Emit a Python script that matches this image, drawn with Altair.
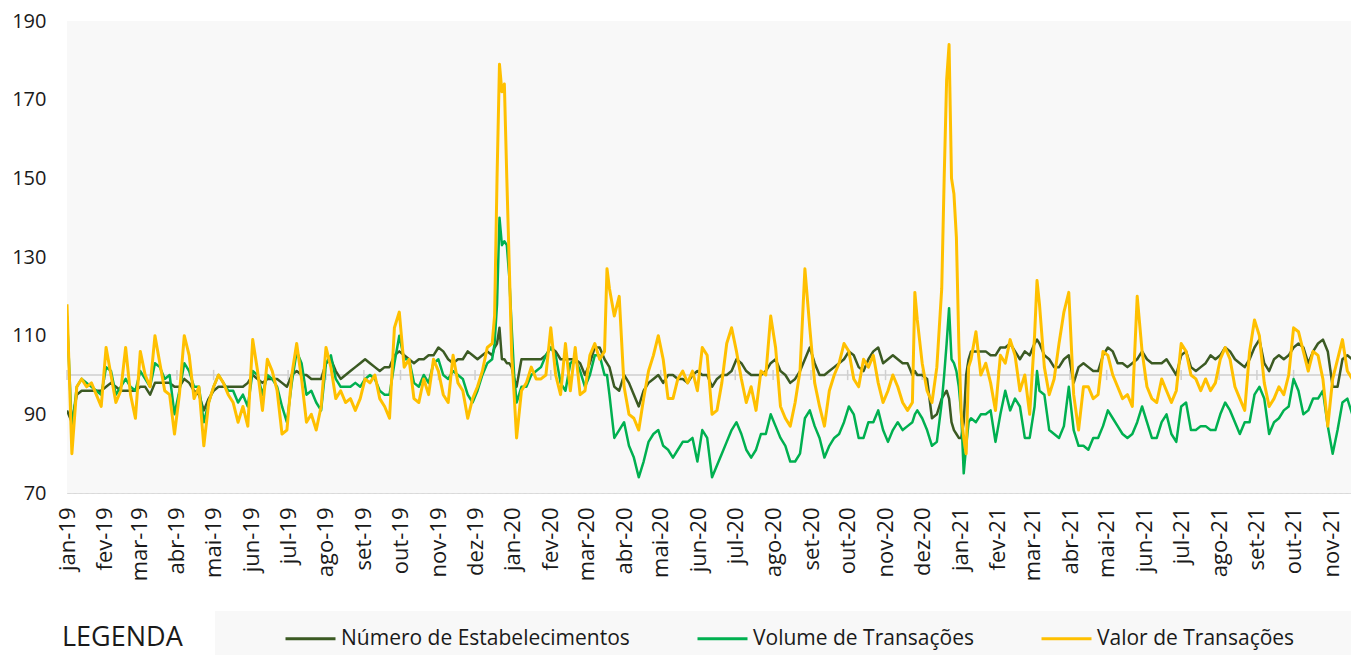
import pandas as pd
import altair as alt

START = pd.Timestamp("2019-01-01")
STEP_DAYS = 4  # sampling step of the main series (one value every 4 days from 1 Jan 2019)

# Número de Estabelecimentos
estab = (
    [91, 88, 95, 96, 96, 96, 96, 96, 97, 98, 97, 96, 96, 96, 96, 97, 97, 95, 98, 98, 98, 98,
     97, 97, 99, 98, 96, 95, 91, 94, 96, 97, 97, 97, 97, 97, 97, 98, 100, 99, 98, 99, 99, 99]
    + [98, 97, 100, 101, 100, 100, 99, 99, 99, 103, 104, 101, 99, 100, 101, 102, 103, 104, 103,
       102, 101, 102, 102, 105, 106, 105, 104, 103, 104, 104, 105, 105, 107, 106, 104, 103, 104,
       104, 106, 105, 104, 105, 106, 105, 108, 104, 103, 102, 97, 104, 104]
    + [104, 104, 104, 105, 107, 106, 104, 104, 104, 104, 103, 100, 103, 107, 107, 104, 102, 97,
       96, 100, 98, 95, 92, 96, 98, 99, 100, 98, 100, 100, 99, 99, 98, 100, 101, 100, 100, 97,
       99, 100, 100, 101, 104, 103, 101, 100, 100, 100, 101, 103, 104]
    + [101, 100, 98, 99, 101, 104, 107, 103, 100, 100, 101, 102, 103, 104, 106, 105, 102, 101,
       104, 106, 107, 103, 104, 105, 104, 103, 103, 100, 100, 100, 99, 89, 90, 94, 96, 88, 85,
       84, 100, 106, 106, 106, 106, 105, 105, 107, 107, 108, 106, 104, 106]
    + [105, 108, 108, 105, 104, 102, 102, 104, 105, 98, 102, 103, 102, 101, 101, 105, 107, 106,
       103, 103, 102, 103, 104, 106, 104, 103, 103, 103, 104, 102, 100, 105, 106, 102, 101, 102,
       103, 105, 104, 105]
    + [107, 106, 104, 103, 102, 104, 107, 109, 103, 101, 104, 105, 104, 105, 107, 108, 107, 103,
       106, 108, 109, 106, 97, 97, 104, 105, 104, 107]
)

# Volume de Transações
volume = (
    [115, 86, 97, 99, 98, 97, 96, 95, 102, 101, 95, 97, 99, 97, 96, 101, 99, 97, 103, 102, 99,
     100, 90, 96, 103, 101, 97, 97, 88, 93, 97, 100, 98, 96, 96, 93, 95, 92, 101, 100, 95, 100,
     99, 97]
    + [92, 88, 98, 106, 103, 95, 96, 93, 91, 103, 105, 99, 97, 97, 97, 98, 97, 99, 100, 99, 96,
       95, 95, 103, 110, 104, 104, 98, 97, 100, 98, 103, 104, 100, 99, 101, 100, 99, 95, 93, 96,
       100, 103, 104, 118, 133, 133, 112, 93, 97, 97]
    + [100, 101, 102, 105, 107, 105, 98, 96, 103, 104, 101, 97, 100, 105, 105, 100, 95, 84, 86,
       88, 82, 79, 74, 78, 83, 85, 86, 82, 81, 79, 81, 83, 83, 84, 78, 86, 84, 74, 77, 80, 83,
       86, 88, 85, 81, 79, 81, 85, 85, 90, 87]
    + [84, 82, 78, 78, 80, 89, 91, 87, 84, 79, 82, 84, 85, 88, 92, 90, 84, 84, 88, 88, 91, 86,
       83, 86, 88, 86, 87, 88, 91, 89, 86, 82, 83, 93, 108, 104, 101, 90, 82, 89, 88, 90, 90,
       91, 83, 90, 96, 91, 94, 92, 84]
    + [84, 92, 96, 95, 86, 85, 84, 87, 97, 86, 82, 82, 81, 84, 84, 87, 91, 89, 87, 85, 84, 85,
       88, 92, 88, 84, 84, 88, 90, 85, 83, 92, 93, 86, 86, 87, 87, 86, 86, 90]
    + [93, 91, 88, 85, 88, 88, 95, 97, 94, 85, 88, 89, 91, 92, 99, 96, 90, 91, 94, 94, 96, 87,
       80, 86, 93, 94, 90, 88]
)

# Valor de Transações
valor = (
    [118, 80, 97, 99, 97, 98, 95, 92, 107, 100, 93, 96, 107, 95, 89, 106, 100, 97, 110, 103, 96,
     95, 85, 95, 110, 105, 94, 97, 82, 93, 97, 100, 98, 95, 93, 88, 92, 87, 109, 101, 91, 104,
     101, 96]
    + [85, 86, 100, 108, 99, 88, 90, 86, 92, 107, 102, 94, 96, 93, 94, 91, 94, 99, 98, 100, 94,
       92, 89, 112, 116, 102, 104, 94, 93, 99, 95, 104, 101, 95, 93, 105, 98, 96, 89, 94, 97,
       101, 107, 108, 150, 172, 150, 105, 84, 96, 98]
    + [102, 99, 99, 100, 112, 100, 95, 108, 96, 107, 95, 96, 105, 108, 104, 106, 122, 115, 120,
       97, 90, 89, 86, 94, 101, 105, 110, 104, 94, 94, 99, 101, 98, 101, 96, 107, 105, 90, 91,
       98, 108, 112, 106, 99, 93, 97, 91, 101, 100, 115, 107]
    + [92, 89, 87, 93, 101, 127, 112, 98, 92, 87, 96, 100, 103, 108, 106, 99, 97, 104, 102, 105,
       98, 93, 96, 100, 97, 93, 91, 93, 114, 103, 96, 93, 102, 122, 175, 150, 135, 90, 80, 104,
       111, 100, 103, 98, 91, 105, 103, 109, 105, 96, 100]
    + [90, 110, 118, 102, 95, 99, 108, 116, 121, 95, 86, 97, 97, 94, 95, 106, 105, 100, 97, 94,
       95, 92, 120, 106, 97, 94, 93, 99, 96, 93, 96, 108, 106, 100, 99, 96, 99, 96, 98, 104]
    + [107, 104, 97, 94, 91, 106, 114, 110, 98, 92, 94, 97, 95, 100, 112, 111, 106, 101, 106,
       105, 99, 87, 99, 104, 109, 101, 99, 96]
)

# extra readings around the peaks (day offset from 1 Jan 2019)
extra_days = [350, 354, 358, 362, 366, 442, 694, 718, 722, 726, 730, 734, 738, 794]
extra_estab = [107, 112, 104, 103, 99, 103, 101, 95, 94, 86, 84, 88, 104, 109]
extra_volume = [108, 140, 134, 125, 100, 100, 90, 100, 117, 103, 97, 75, 88, 101]
extra_valor = [115, 179, 174, 128, 95, 127, 121, 150, 184, 146, 108, 84, 102, 124]

SERIES = ["Número de Estabelecimentos", "Volume de Transações", "Valor de Transações"]
COLORS = ["#3b5a23", "#00b050", "#ffc000"]

assert len(estab) == len(volume) == len(valor)
n = len(estab)
days = [i * STEP_DAYS for i in range(n)] + extra_days
wide = pd.DataFrame({
    "day": days,
    SERIES[0]: estab + extra_estab,
    SERIES[1]: volume + extra_volume,
    SERIES[2]: valor + extra_valor,
}).sort_values("day")
wide["date"] = (START + pd.to_timedelta(wide["day"], unit="D")).dt.strftime("%Y-%m-%dT00:00:00")
df = wide.melt(id_vars=["day", "date"], value_vars=SERIES, var_name="serie", value_name="valor")

months = pd.DataFrame({
    "date": pd.date_range("2019-01-01", "2021-11-01", freq="MS").strftime("%Y-%m-%dT00:00:00")
})

FONT = "Open Sans"
BG = "#f8f8f8"
W, H = 1284, 472

x_scale = alt.Scale(
    domain=[alt.DateTime(year=2019, month=1, date=1), alt.DateTime(year=2021, month=11, date=17)],
    nice=False,
)
y_scale = alt.Scale(domain=[70, 190], nice=False, zero=False)

label_expr = (
    "['jan','fev','mar','abr','mai','jun','jul','ago','set','out','nov','dez'][month(datum.value)]"
    " + '-' + timeFormat(datum.value, '%y')"
)
x_axis = alt.Axis(
    title=None, tickCount={"interval": "month", "step": 1}, labelExpr=label_expr,
    labelAngle=270, grid=False, domain=False, ticks=False, labelPadding=14,
    labelFontSize=22, labelColor="#1a1a1a", labelFont=FONT, labelOverlap=False,
    labelFlush=False, labelBound=False,
)
y_axis = alt.Axis(
    title=None, values=[70, 90, 110, 130, 150, 170, 190], grid=True, gridDash=[3, 3],
    gridColor="#d9d9d9", gridWidth=1, domain=False, ticks=False, labelPadding=21,
    labelFontSize=20, labelColor="#1a1a1a", labelFont=FONT,
)

X = alt.X("date:T", scale=x_scale, axis=x_axis)
cscale = alt.Scale(domain=SERIES, range=COLORS)
legend = alt.Legend(
    title=None, orient="none", legendX=217, legendY=591, direction="horizontal",
    symbolType="stroke", symbolSize=2500, symbolStrokeWidth=3, labelFontSize=21,
    labelFont=FONT, labelColor="#1a1a1a", columnPadding=61, labelOffset=4, padding=0,
    labelLimit=600,
)


def series_layer(name, width):
    return alt.Chart(df).transform_filter(
        alt.datum.serie == name
    ).mark_line(strokeWidth=width, clip=True, strokeJoin="round").encode(
        x=X,
        y=alt.Y("valor:Q", scale=y_scale, axis=y_axis),
        color=alt.Color("serie:N", scale=cscale, legend=legend),
    )


dummy = alt.Chart(pd.DataFrame({"a": [0]}))

plot_bg = dummy.mark_rect(color=BG).encode(
    x=alt.value(0), x2=alt.value(W), y=alt.value(0), y2=alt.value(H)
)
legend_box = dummy.mark_rect(color=BG).encode(
    x=alt.value(148), x2=alt.value(1300), y=alt.value(590), y2=alt.value(640)
)
legend_title = dummy.mark_text(
    text="LEGENDA", align="left", baseline="middle", fontSize=27, font=FONT, color="#1a1a1a"
).encode(x=alt.value(-5), y=alt.value(617))

base_line = dummy.mark_rule(color="#cfcfcf", strokeWidth=1.5).encode(
    y=alt.datum(100, scale=y_scale, axis=y_axis)
)
month_ticks = alt.Chart(months).mark_rule(color="#cfcfcf", strokeWidth=1.5).encode(
    x=X, y=alt.datum(98.7, scale=y_scale, axis=y_axis), y2=alt.datum(101.3)
)

chart = alt.layer(
    plot_bg,
    legend_box,
    base_line,
    month_ticks,
    series_layer(SERIES[0], 2.5),
    series_layer(SERIES[1], 2.5),
    series_layer(SERIES[2], 3),
    legend_title,
).properties(
    width=W, height=H,
    padding={"left": 59, "top": 13, "right": 0, "bottom": 162},
    autosize=alt.AutoSizeParams(type="none"),
    background="white",
).configure_view(stroke=None).configure(font=FONT)

chart.save("out.html", embed_options={"renderer": "svg", "actions": False})
